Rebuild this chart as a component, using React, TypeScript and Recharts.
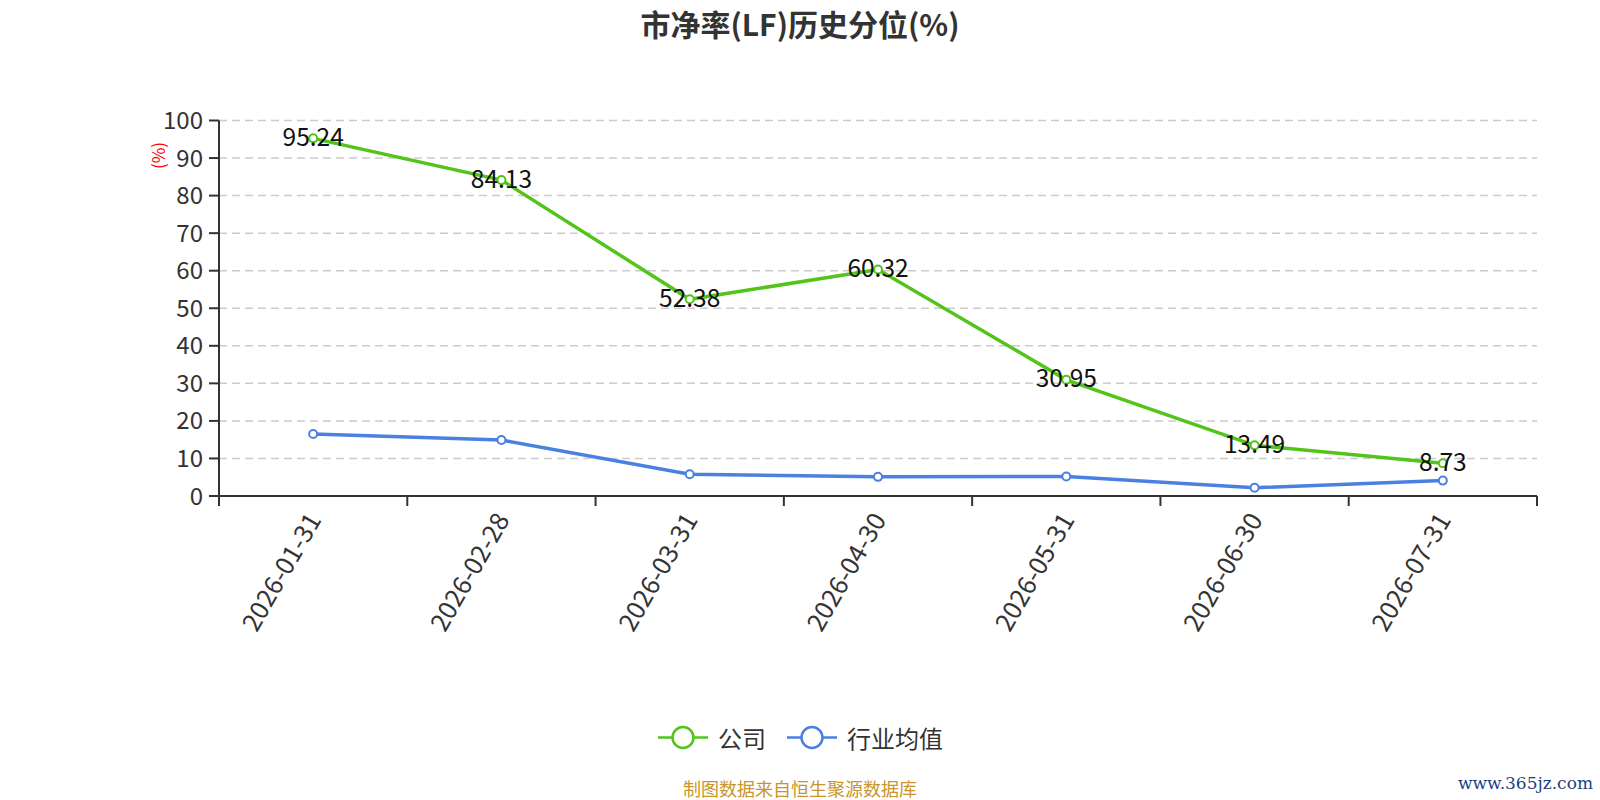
import React from 'react';
import { LineChart, Line, XAxis, YAxis, CartesianGrid } from 'recharts';

const categories = ['2026-01-31', '2026-02-28', '2026-03-31', '2026-04-30', '2026-05-31', '2026-06-30', '2026-07-31'];
const companyValues = [95.24, 84.13, 52.38, 60.32, 30.95, 13.49, 8.73];
const industryValues = [16.5, 14.9, 5.8, 5.1, 5.2, 2.2, 4.1];
const yTicks = [0, 10, 20, 30, 40, 50, 60, 70, 80, 90, 100];
const seriesNames = ['公司', '行业均值'];
const titleText = '市净率(LF)历史分位(%)';
const footerText = '制图数据来自恒生聚源数据库';
const watermarkText = 'www.365jz.com';

const GREEN = '#52c41a';
const BLUE = '#4a80e2';
const FONT = '"Noto Sans CJK SC", "Noto Sans", sans-serif';

const data = categories.map((c, i) => ({
  pos: i + 0.5,
  name: c,
  company: companyValues[i],
  industry: industryValues[i],
}));

// boundary positions (tick lines) and centers (labels)
const xTicks: number[] = [];
for (let i = 0; i <= categories.length; i++) {
  xTicks.push(i);
  if (i < categories.length) xTicks.push(i + 0.5);
}

const XTick = (props: any) => {
  const { x, y, payload } = props;
  const v = payload.value as number;
  if (Number.isInteger(v)) {
    return <line x1={x} y1={y} x2={x} y2={y + 10} stroke="#333" strokeWidth={2} />;
  }
  const label = categories[Math.floor(v)];
  const tx = x - 1;
  const ty = y + 18;
  return (
    <text
      x={tx}
      y={ty}
      transform={`rotate(-60, ${tx}, ${ty})`}
      textAnchor="end"
      dominantBaseline="central"
      fontSize={25.5}
      fill="#333"
      fontFamily={FONT}
    >
      {label}
    </text>
  );
};

const ValueLabel = (props: any) => {
  const { x, y, value } = props;
  return (
    <text x={x} y={y - 3} textAnchor="middle" dominantBaseline="central" fontSize={24.5} fill="#111" fontFamily={FONT}>
      {value}
    </text>
  );
};

const LegendItem = ({ cx, color, text }: { cx: number; color: string; text: string }) => (
  <g>
    <line x1={cx - 25} y1={737.5} x2={cx + 25} y2={737.5} stroke={color} strokeWidth={2.5} />
    <circle cx={cx} cy={737.5} r={10.5} fill="#fff" stroke={color} strokeWidth={2.5} />
    <text x={cx + 35} y={737.5} dominantBaseline="central" fontSize={24} fill="#333" fontFamily={FONT}>
      {text}
    </text>
  </g>
);

export default function App() {
  return (
    <div style={{ position: 'absolute', left: 0, top: 0, width: 1600, height: 800, background: '#fff', fontFamily: FONT }}>
      <LineChart
        width={1600}
        height={800}
        data={data}
        margin={{ top: 120.5, right: 63, bottom: 0, left: 0 }}
      >
        <CartesianGrid vertical={false} stroke="#ccc" strokeDasharray="8 5" strokeWidth={1.5} />
        <XAxis
          dataKey="pos"
          type="number"
          domain={[0, categories.length]}
          ticks={xTicks}
          interval={0}
          height={304}
          tickSize={0}
          tickMargin={0}
          tickLine={false}
          axisLine={{ stroke: '#333', strokeWidth: 2 }}
          tick={<XTick />}
        />
        <YAxis
          type="number"
          domain={[0, 100]}
          ticks={yTicks}
          interval={0}
          width={219}
          tickSize={10}
          tickMargin={6}
          axisLine={{ stroke: '#333', strokeWidth: 2 }}
          tickLine={{ stroke: '#333', strokeWidth: 2 }}
          tick={{ fontSize: 24, fill: '#333', fontFamily: FONT }}
        />
        <Line
          dataKey="industry"
          name={seriesNames[1]}
          stroke={BLUE}
          strokeWidth={3.5}
          dot={{ r: 4, fill: '#fff', stroke: BLUE, strokeWidth: 2 }}
          isAnimationActive={false}
        />
        <Line
          dataKey="company"
          name={seriesNames[0]}
          stroke={GREEN}
          strokeWidth={3.5}
          dot={false}
          label={<ValueLabel />}
          isAnimationActive={false}
        />
        <Line
          dataKey="company"
          stroke="none"
          legendType="none"
          dot={{ r: 4, fill: '#fff', stroke: GREEN, strokeWidth: 2 }}
          isAnimationActive={false}
        />
      </LineChart>
      <svg width={1600} height={800} style={{ position: 'absolute', left: 0, top: 0, pointerEvents: 'none' }}>
        <text x={800} y={23} textAnchor="middle" dominantBaseline="central" fontSize={30} fontWeight="bold" fill="#333" fontFamily={FONT}>
          {titleText}
        </text>
        <text
          x={157}
          y={155.5}
          transform="rotate(-90, 157, 155.5)"
          textAnchor="middle"
          dominantBaseline="central"
          fontSize={17}
          fill="#ff0000"
          fontFamily={FONT}
        >
          (%)
        </text>
        <LegendItem cx={683} color={GREEN} text={seriesNames[0]} />
        <LegendItem cx={812} color={BLUE} text={seriesNames[1]} />
        <text x={800} y={787.5} textAnchor="middle" dominantBaseline="central" fontSize={18} fill="#c9952b" fontFamily={FONT}>
          {footerText}
        </text>
        <text x={1593} y={783} textAnchor="end" dominantBaseline="central" fontSize={17} fill="#1c3f7e" fontFamily='"DejaVu Serif", serif'>
          {watermarkText}
        </text>
      </svg>
    </div>
  );
}
